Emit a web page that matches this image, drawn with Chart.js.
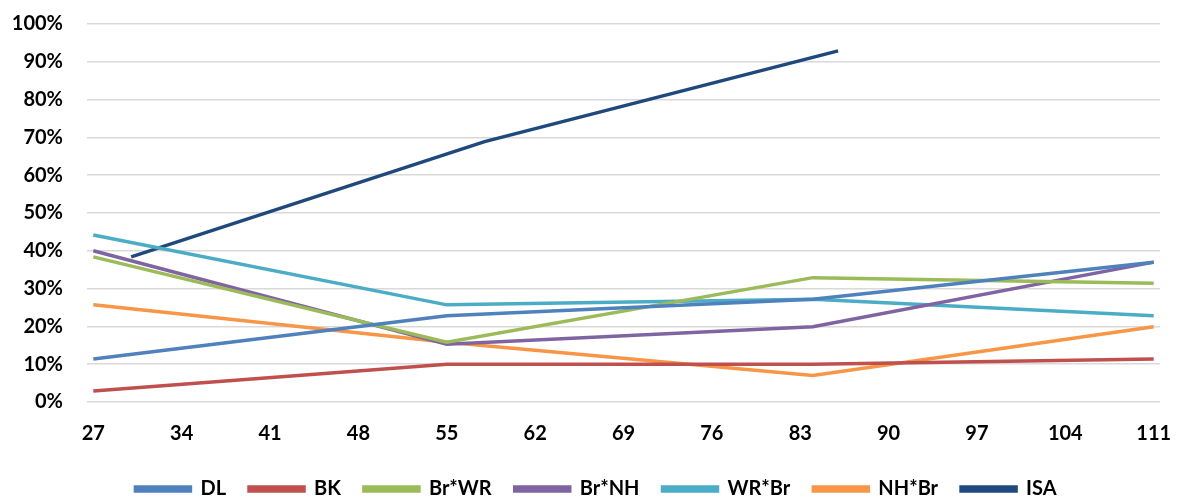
<!DOCTYPE html>
<html>
<head>
<meta charset="utf-8">
<script src="https://cdn.jsdelivr.net/npm/chart.js@4/dist/chart.umd.min.js"></script>
<style>
  html, body { margin: 0; padding: 0; background: #fff; }
  #wrap { width: 1180px; height: 496px; }
</style>
</head>
<body>
<div id="wrap"><canvas id="chart"></canvas></div>
<script>
// x positions where each series has a point
const xMain = [27, 55, 84, 111];
const xIsa = [30, 58, 86];
const xTicks = [27, 34, 41, 48, 55, 62, 69, 76, 83, 90, 97, 104, 111];

// values in percent
const dl = [11.4, 22.8, 27.2, 37.0];
const bk = [2.9, 10.0, 10.0, 11.4];
const brWr = [38.4, 15.8, 32.9, 31.4];
const brNh = [40.0, 15.3, 19.9, 37.0];
const wrBr = [44.2, 25.7, 27.2, 22.8];
const nhBr = [25.7, 15.8, 7.0, 19.9];
const isa = [38.4, 68.9, 92.9];

const toPoints = (xs, ys) => xs.map((x, i) => ({ x: x, y: ys[i] }));

const series = [
  { label: "DL", xs: xMain, ys: dl, color: "#4F81BD" },
  { label: "BK", xs: xMain, ys: bk, color: "#C0504D" },
  { label: "Br*WR", xs: xMain, ys: brWr, color: "#9BBB59" },
  { label: "Br*NH", xs: xMain, ys: brNh, color: "#8064A2" },
  { label: "WR*Br", xs: xMain, ys: wrBr, color: "#4BACC6" },
  { label: "NH*Br", xs: xMain, ys: nhBr, color: "#F79646" },
  { label: "ISA", xs: xIsa, ys: isa, color: "#1F497D" },
];

const font = { family: "Lato", size: 20, weight: "bold" };

// nudge the legend row a little right/down after layout
const legendNudge = {
  id: "legendNudge",
  afterLayout(chart) {
    const lg = chart.legend;
    if (!lg) return;
    lg.left += 16;
    lg.right += 16;
    lg.top += 2;
    lg.bottom += 2;
  },
};

new Chart(document.getElementById("chart"), {
  type: "line",
  data: {
    datasets: series.map((s) => ({
      label: s.label,
      data: toPoints(s.xs, s.ys),
      borderColor: s.color,
      backgroundColor: s.color,
      borderWidth: 3.5,
      pointRadius: 0,
      tension: 0,
    })),
  },
  options: {
    responsive: true,
    maintainAspectRatio: false,
    animation: false,
    layout: { padding: { top: 24, right: 20, left: 0, bottom: -11 } },
    scales: {
      x: {
        type: "linear",
        min: 26.5,
        max: 111.5,
        grid: { display: false },
        border: { display: false },
        afterBuildTicks: (axis) => {
          axis.ticks = xTicks.map((v) => ({ value: v }));
        },
        afterFit: (axis) => {
          // fixed box height, no extra side padding from the end labels
          axis.height = 52;
          axis.paddingLeft = 0;
          axis.paddingRight = 0;
        },
        ticks: {
          color: "#000",
          font: font,
          padding: 12,
          maxRotation: 0,
          autoSkip: false,
        },
      },
      y: {
        min: 0,
        max: 100,
        grid: { color: "#d9d9d9", lineWidth: 1.5, drawTicks: false },
        border: { display: false },
        afterFit: (axis) => {
          axis.width = 87;
          axis.paddingTop = 0;
          axis.paddingBottom = 0;
        },
        ticks: {
          stepSize: 10,
          color: "#000",
          font: font,
          padding: 24,
          callback: (v) => v + "%",
        },
      },
    },
    plugins: {
      legend: {
        position: "bottom",
        labels: {
          color: "#000",
          font: font,
          boxWidth: 55,
          boxHeight: 4,
          padding: 23,
        },
      },
      tooltip: { enabled: false },
    },
  },
  plugins: [legendNudge],
});
</script>
</body>
</html>
